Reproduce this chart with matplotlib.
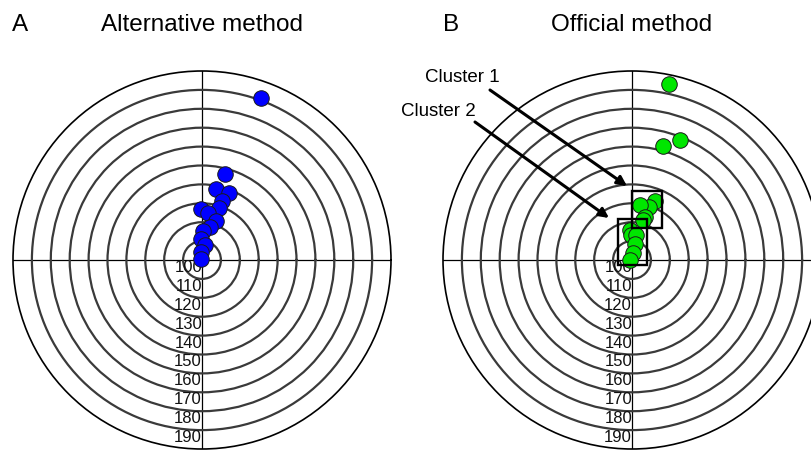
import numpy as np
import matplotlib
matplotlib.use("Agg")
import matplotlib.pyplot as plt
from matplotlib.patches import Rectangle

plt.rcParams["font.family"] = ["Liberation Sans", "DejaVu Sans"]

# angle in degrees (0 = east, counter-clockwise), radial value
alt_angle = [70.0, 75.2, 78.6, 68.1, 71.4, 72.1, 90.8, 82.8, 69.9, 77.0, 88.0, 91.9, 77.6, 94.8, 152.0]
alt_value = [191.0, 147.0, 138.2, 138.4, 133.1, 128.7, 126.8, 125.2, 122.0, 118.1, 115.5, 111.0, 108.1, 104.4, 100.8]

off_angle = [78.0, 68.1, 75.0, 69.1, 72.0, 82.0, 72.7, 74.6, 93.2, 92.3, 80.2, 78.1, 84.0, 180.0]
off_value = [195.2, 168.4, 162.6, 133.6, 129.6, 129.4, 123.7, 122.0, 115.9, 113.2, 113.4, 108.5, 103.5, 100.9]

ring_values = [110, 120, 130, 140, 150, 160, 170, 180, 190]
label_values = [100, 110, 120, 130, 140, 150, 160, 170, 180, 190]

W, H = 811, 453


def px(x, y):
    return (x / W, 1 - y / H)


fig = plt.figure(figsize=(8.11, 4.53), dpi=100)


def polar_panel(rect, angles, values, color):
    ax = fig.add_axes(rect, projection="polar")
    ax.set_ylim(100, 200)
    ax.set_rgrids(ring_values, labels=[])
    ax.set_thetagrids([0, 90, 180, 270], labels=[])
    ax.yaxis.grid(True, color="#3a3a3a", lw=1.6)
    ax.xaxis.grid(True, color="black", lw=0.9)
    ax.spines["polar"].set_linewidth(1.2)
    ax.tick_params(length=0)
    for v in label_values:
        ax.text(np.radians(270), v, str(v), ha="right", va="top",
                fontsize=12, color="#111111")
    ax.scatter(np.radians(angles), values, s=125, color=color,
               edgecolor="#1a1a1a", linewidth=0.7, zorder=5, clip_on=False)
    return ax


ax1 = polar_panel([13 / W, 4 / H, 378 / W, 378 / H], alt_angle, alt_value, "#0000ff")
ax2 = polar_panel([443 / W, 4 / H, 378 / W, 378 / H], off_angle, off_value, "#00e600")

fig.text(*px(12, 31), "A", fontsize=17.5, va="baseline")
fig.text(*px(202, 31), "Alternative method", fontsize=17.5, va="baseline", ha="center")
fig.text(*px(443, 31), "B", fontsize=17.5, va="baseline")
fig.text(*px(632, 31), "Official method", fontsize=17.5, va="baseline", ha="center")

# cluster boxes
for (x0, y0, x1, y1) in [(632, 191, 662, 228), (618, 219, 647, 265)]:
    fig.patches.append(Rectangle(px(x0, y1), (x1 - x0) / W, (y1 - y0) / H,
                                 transform=fig.transFigure, fill=False,
                                 edgecolor="black", lw=1.7, zorder=10))

fig.text(*px(462, 78), "Cluster 1", fontsize=13.5, ha="center", va="center")
fig.text(*px(438, 112), "Cluster 2", fontsize=13.5, ha="center", va="center")

arrow = dict(arrowstyle="-|>", color="black", lw=2.2, mutation_scale=14,
             shrinkA=0, shrinkB=0)
ax2.annotate("", xy=px(627, 186), xytext=px(490, 90), xycoords="figure fraction",
             textcoords="figure fraction", arrowprops=arrow, annotation_clip=False)
ax2.annotate("", xy=px(609, 218), xytext=px(475, 122), xycoords="figure fraction",
             textcoords="figure fraction", arrowprops=arrow, annotation_clip=False)

fig.savefig("out.png", dpi=100)
